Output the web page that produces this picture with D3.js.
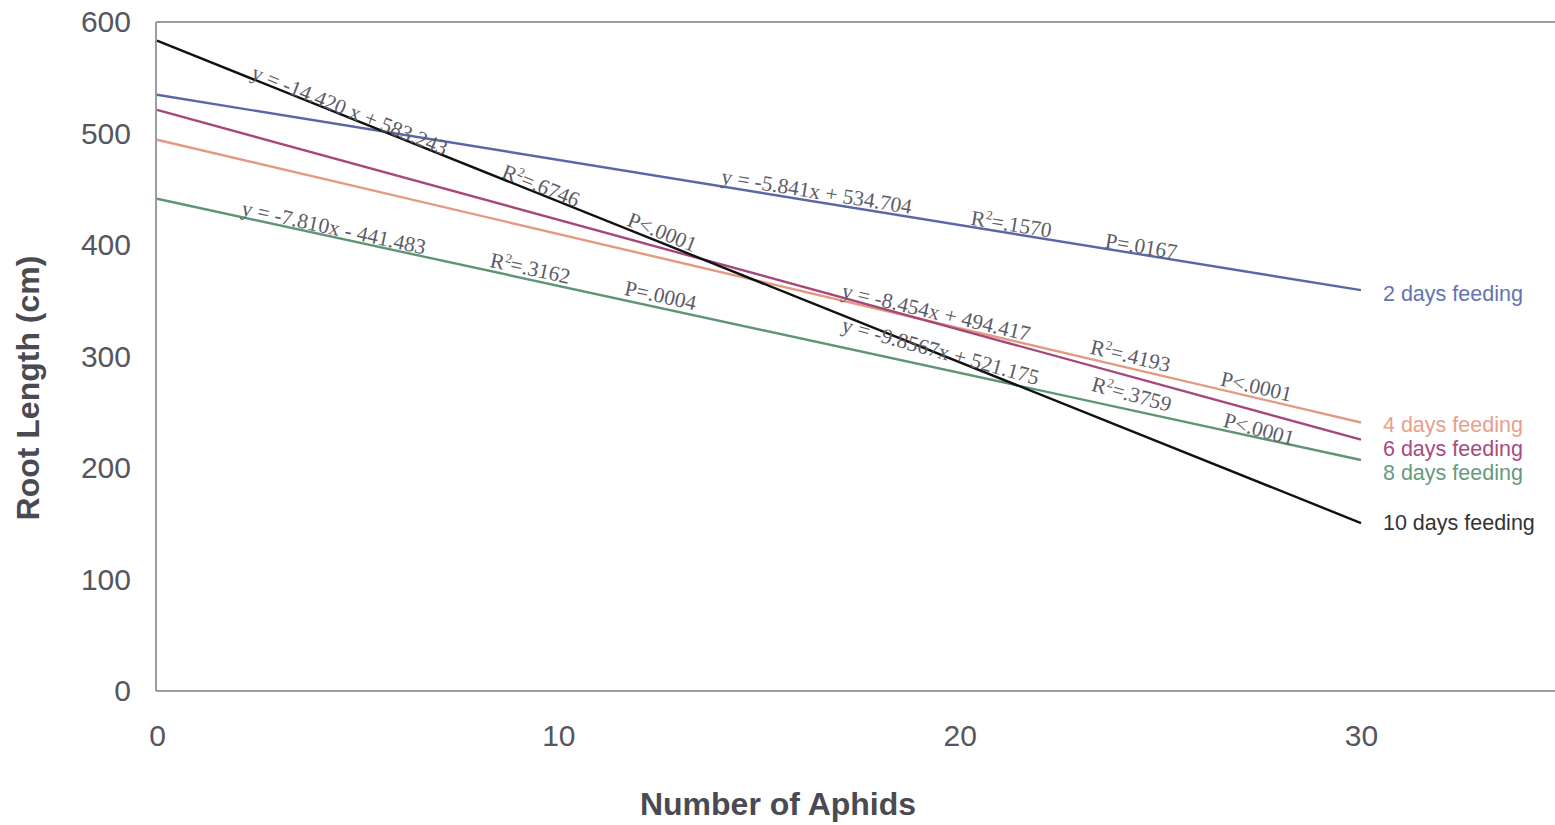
<!DOCTYPE html>
<html><head><meta charset="utf-8">
<script src="https://cdn.jsdelivr.net/npm/d3@7"></script>
<style>body{margin:0;background:#fff}svg{display:block}</style>
</head><body>
<svg id="chart" width="1555" height="825"></svg>
<script>
// ---- data ----
const seriesNames = ["2 days feeding","4 days feeding","6 days feeding","8 days feeding","10 days feeding"];
const slopes      = [-5.841, -8.454, -9.8567, -7.810, -14.420];
const intercepts  = [534.704, 494.417, 521.175, 441.483, 583.243];
const xStart = [0,0,0,0,0];
const xEnd   = [30,30,30,30,30];
const equations = ["y = -5.841x + 534.704","y = -8.454x + 494.417","y = -9.8567x + 521.175","y = -7.810x - 441.483","y = -14.420 x + 583.243"];
const rSquared  = [".1570",".4193",".3759",".3162",".6746"];
const pValues   = ["P=.0167","P<.0001","P<.0001","P=.0004","P<.0001"];
const xTicks = [0,10,20,30];
const yTicks = [0,100,200,300,400,500,600];

// ---- styles / layout ----
const lineColors  = ["#5a66a8","#e39a80","#a5477a","#5e9574","#111111"];
const labelColors = ["#6373b2","#e6a08c","#a94a80","#679a7c","#333333"];
// annotation anchors: x in data units along line, perpendicular offset in px
const annX = [[14.03,20.25,23.6],[17.02,23.2,26.45],[17.25,23.42,26.7],[2.07,8.25,11.6],[2.32,8.55,11.66]];
const annOff = [[-3,-2,-1],[-3,-5,-4],[33,24,24],[-2,-4,-5],[0,-1,-3]];
const legendDy = [11,9,16,20,7];

const svg = d3.select("#chart");
const x = d3.scaleLinear().domain([0,35]).range([157, 157+35*40.133]);
const y = d3.scaleLinear().domain([0,600]).range([691,22]);

// frame
svg.append("line").attr("x1",156).attr("x2",1555).attr("y1",22).attr("y2",22).attr("stroke","#9a9ca4").attr("stroke-width",2);
svg.append("line").attr("x1",156).attr("x2",1555).attr("y1",691).attr("y2",691).attr("stroke","#9a9ca4").attr("stroke-width",2);
svg.append("line").attr("x1",156).attr("x2",156).attr("y1",22).attr("y2",691).attr("stroke","#9a9ca4").attr("stroke-width",2);

// axes labels via axis generators
const yAxis = d3.axisLeft(y).tickValues(yTicks).tickSize(0).tickPadding(26);
const gy = svg.append("g").attr("transform","translate(157,0)").call(yAxis);
gy.select(".domain").remove();
gy.selectAll("text").attr("font-family","Liberation Sans, Arial, sans-serif").attr("font-size",30).attr("fill","#55565e");

const xAxis = d3.axisBottom(x).tickValues(xTicks).tickSize(0).tickPadding(34);
const gx = svg.append("g").attr("transform","translate(0,691)").call(xAxis);
gx.select(".domain").remove();
gx.selectAll("text").attr("font-family","Liberation Sans, Arial, sans-serif").attr("font-size",30).attr("fill","#55565e");

// titles
svg.append("text").attr("transform","translate(39,388) rotate(-90)").attr("text-anchor","middle")
  .attr("font-family","Liberation Sans, Arial, sans-serif").attr("font-weight","bold").attr("font-size",32).attr("fill","#4a4a52")
  .text("Root Length (cm)");
svg.append("text").attr("x",778).attr("y",815).attr("text-anchor","middle")
  .attr("font-family","Liberation Sans, Arial, sans-serif").attr("font-weight","bold").attr("font-size",32).attr("fill","#4a4a52")
  .text("Number of Aphids");

// lines
const f = (i,v) => slopes[i]*v + intercepts[i];
seriesNames.forEach((name,i)=>{
  const pts = [xStart[i], xEnd[i]].map(v=>[x(v), y(f(i,v))]);
  svg.append("path").attr("d", d3.line()(pts)).attr("fill","none").attr("stroke",lineColors[i]).attr("stroke-width",2.4);
});

// annotations
seriesNames.forEach((name,i)=>{
  const ang = Math.atan2(y(f(i,10))-y(f(i,0)), x(10)-x(0))*180/Math.PI;
  const rad = ang*Math.PI/180;
  const texts = [equations[i], null, pValues[i]];
  for(let k=0;k<3;k++){
    const px = x(annX[i][k]), py = y(f(i,annX[i][k]));
    const off = annOff[i][k];
    const tx = px - Math.sin(rad)*off, ty = py + Math.cos(rad)*off;
    const t = svg.append("text").attr("transform",`translate(${tx},${ty}) rotate(${ang})`)
      .attr("font-family","Liberation Serif, Times New Roman, serif").attr("font-size",21.5).attr("fill","#5c5c66");
    if(k===1){
      t.append("tspan").text("R");
      t.append("tspan").attr("font-size",13).attr("dy",-8).text("2");
      t.append("tspan").attr("dy",8).text("=" + rSquared[i]);
    } else t.text(texts[k]);
  }
});

// end labels
seriesNames.forEach((name,i)=>{
  svg.append("text").attr("x", x(xEnd[i])+22).attr("y", y(f(i,xEnd[i]))+legendDy[i])
    .attr("font-family","Liberation Sans, Arial, sans-serif").attr("font-size",21.5).attr("fill",labelColors[i])
    .text(name);
});
</script>
</body></html>
